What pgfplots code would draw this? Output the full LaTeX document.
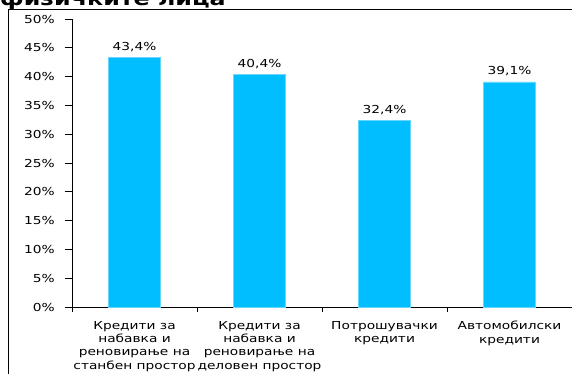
\documentclass[border=0pt]{standalone}
\usepackage{fontspec}
\setmainfont{DejaVu Sans}[FakeStretch=1.25]
\usepackage{pgfplots}
\pgfplotsset{compat=1.18}
\definecolor{barblue}{RGB}{0,190,255}
\begin{document}
\begin{tikzpicture}[x=1pt,y=1pt]
\useasboundingbox (0,0) rectangle (572,373);
\node[anchor=base west, font=\bfseries\fontsize{19}{21}\selectfont, inner sep=0] at (0,367) {физичките лица};
\draw[line width=0.9pt] (8,-20) rectangle (590,364);
\begin{axis}[
  at={(72pt,66pt)}, anchor=south west,
  scale only axis, width=500pt, height=288pt,
  xmin=-0.5, xmax=3.5, ymin=0, ymax=50,
  axis x line*=bottom, axis y line*=left,
  axis line style={line width=0.8pt, -},
  ytick={0,5,...,50},
  yticklabel={\pgfmathprintnumber{\tick}\%},
  /pgf/number format/assume math mode=true,
  tick align=outside,
  major tick length=7pt,
  tick style={line width=0.8pt, black},
  xtick={0,1,2,3},
  x tick style={draw=none},
  minor xtick={-0.5,0.5,1.5,2.5,3.5},
  minor x tick style={draw=black, line width=0.8pt},
  minor tick length=5pt,
  xticklabels={{Кредити за\\набавка и\\реновирање на\\станбен простор},
               {Кредити за\\набавка и\\реновирање на\\деловен простор},
               {Потрошувачки\\кредити},
               {Автомобилски\\кредити}},
  xticklabel style={align=center, font=\fontsize{11}{13.3}\selectfont, inner sep=0, yshift=-7pt},
  yticklabel style={font=\fontsize{11}{13}\selectfont, inner sep=0, xshift=-10pt},
  ybar, bar width=52pt,
  nodes near coords={\pgfmathprintnumber[use comma,fixed,precision=1,fixed zerofill]{\pgfplotspointmeta}\%},
  nodes near coords style={font=\fontsize{11}{13}\selectfont, anchor=base, inner sep=0, yshift=7pt},
  clip=false,
]
\addplot[fill=barblue, draw=barblue!60!white, line width=0.5pt] coordinates {(0,43.4) (1,40.4) (2,32.4) (3,39.1)};
\end{axis}
\end{tikzpicture}
\end{document}
